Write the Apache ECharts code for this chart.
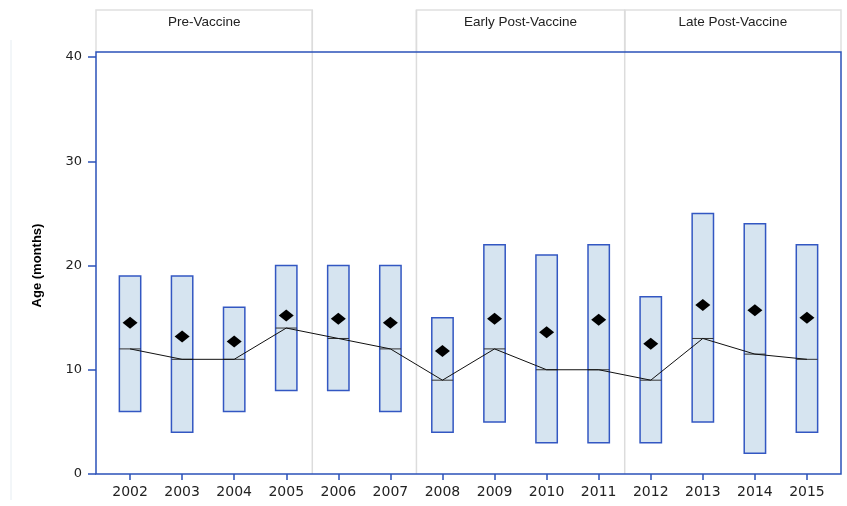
<!DOCTYPE html>
<html>
<head>
<meta charset="utf-8">
<script src="https://cdn.jsdelivr.net/npm/echarts@6/dist/echarts.min.js"></script>
<style>
  html,body{margin:0;padding:0;background:#fff;}
  #chart{width:847px;height:506px;}
</style>
</head>
<body>
<div id="chart"></div>
<script>
// years on the x axis
var years = ['2002','2003','2004','2005','2006','2007','2008','2009','2010','2011','2012','2013','2014','2015'];
// box: 25th percentile, median, 75th percentile (months)
var q1     = [6, 4, 6, 8, 8, 6, 4, 5, 3, 3, 3, 5, 2, 4];
var median = [12, 11, 11, 14, 13, 12, 9, 12, 10, 10, 9, 13, 11.5, 11];
var q3     = [19, 19, 16, 20, 20, 20, 15, 22, 21, 22, 17, 25, 24, 22];
// mean (diamonds)
var mean   = [14.5, 13.2, 12.7, 15.2, 14.9, 14.5, 11.8, 14.9, 13.6, 14.8, 12.5, 16.2, 15.7, 15.0];
// vaccine periods
var periodNames = ['Pre-Vaccine', 'Early Post-Vaccine', 'Late Post-Vaccine'];
var periodStart = ['2002', '2008', '2012'];
var periodEnd   = ['2005', '2011', '2015'];
// vertical separators after these years
var sepAfter = ['2005', '2007', '2011'];
var yTicks = [0, 10, 20, 30, 40];

var blue = '#2b51b9';
var chart = echarts.init(document.getElementById('chart'));

var boxData = years.map(function(y, i){ return [y, q1[i], median[i], q3[i]]; });

var option = {
  animation: false,
  backgroundColor: '#fff',
  grid: [
    { left: 104, right: 14, top: 57, bottom: 32, outerBoundsMode: 'none' },
    { left: 96, right: 6, top: 52, bottom: 32, show: true, borderColor: blue, borderWidth: 1.5,
      backgroundColor: 'transparent', outerBoundsMode: 'none', z: 2 }
  ],
  xAxis: [
    {
      type: 'category', data: years, gridIndex: 0,
      axisLine: { show: false },
      axisTick: { show: true, alignWithLabel: true, length: 6, lineStyle: { color: blue, width: 1.5 } },
      axisLabel: { color: '#222', fontFamily: 'DejaVu Sans', fontSize: 14, margin: 11 },
      splitLine: { show: false }
    },
    { type: 'value', gridIndex: 1, show: false }
  ],
  yAxis: [
    {
      type: 'value', gridIndex: 0, min: 0, max: 40, interval: 10, offset: 8,
      name: 'Age (months)', nameLocation: 'middle', nameGap: 52, nameRotate: 90,
      nameTextStyle: { fontFamily: "'Liberation Sans Narrow', 'Liberation Sans', sans-serif", fontWeight: 'bold', fontSize: 13, color: '#000' },
      axisLine: { show: false },
      axisTick: { show: true, length: 8, customValues: yTicks, lineStyle: { color: blue, width: 1.5 } },
      axisLabel: { color: '#222', fontFamily: 'DejaVu Sans', fontSize: 13, margin: 14, customValues: yTicks },
      splitLine: { show: false }
    },
    { type: 'value', gridIndex: 1, show: false }
  ],
  graphic: [
    { type: 'line', shape: { x1: 11, y1: 40, x2: 11, y2: 500 }, style: { stroke: '#e6edf2', lineWidth: 1 } }
  ],
  series: [
    {
      // period header boxes (open at the bottom, the frame closes them)
      type: 'custom', name: 'periods', z: 1, clip: false,
      data: periodNames.map(function(n, i){ return [years.indexOf(periodStart[i]), years.indexOf(periodEnd[i]), i]; }),
      encode: { x: [0, 1] },
      renderItem: function(params, api){
        var cs = params.coordSys;
        var bw = api.size([1, 0])[0];
        var s = api.value(0), e = api.value(1), i = api.value(2);
        var x1 = api.coord([s, 0])[0] - bw / 2;
        var x2 = api.coord([e, 0])[0] + bw / 2;
        if (s === 0) x1 = cs.x - 8;
        if (e === years.length - 1) x2 = cs.x + cs.width + 8;
        var top = 10, bottom = cs.y - 4.5;
        return {
          type: 'group',
          children: [
            { type: 'polyline', shape: { points: [[x1, bottom], [x1, top], [x2, top], [x2, bottom]] },
              style: { fill: 'none', stroke: '#e0e0e0', lineWidth: 1.5 } },
            { type: 'text', x: (x1 + x2) / 2, y: 22,
              style: { text: periodNames[i], align: 'center', verticalAlign: 'middle',
                       fill: '#222', fontFamily: 'Liberation Sans', fontSize: 13.5 } }
          ]
        };
      }
    },
    {
      // separators between periods
      type: 'custom', name: 'separators', z: 1, clip: false,
      data: sepAfter.map(function(y){ return [years.indexOf(y)]; }),
      encode: { x: 0 },
      renderItem: function(params, api){
        var cs = params.coordSys;
        var bw = api.size([1, 0])[0];
        var x = api.coord([api.value(0), 0])[0] + bw / 2;
        return { type: 'line', shape: { x1: x, y1: 10, x2: x, y2: cs.y + cs.height },
                 style: { stroke: '#dcdcdc', lineWidth: 1.5 } };
      }
    },
    {
      // interquartile boxes with median bar
      type: 'custom', name: 'boxes', z: 3,
      data: boxData,
      encode: { x: 0, y: [1, 2, 3] },
      renderItem: function(params, api){
        var x = api.value(0);
        var lo = api.coord([x, api.value(1)]);
        var md = api.coord([x, api.value(2)]);
        var hi = api.coord([x, api.value(3)]);
        var w = api.size([1, 0])[0] * 0.41;
        return {
          type: 'group',
          children: [
            { type: 'rect', shape: { x: lo[0] - w / 2, y: hi[1], width: w, height: lo[1] - hi[1] },
              style: { fill: '#d6e4f0', stroke: '#3357c2', lineWidth: 1.5 } },
            { type: 'line', shape: { x1: lo[0] - w / 2, y1: md[1], x2: lo[0] + w / 2, y2: md[1] },
              style: { stroke: '#333', lineWidth: 1 } }
          ]
        };
      }
    },
    {
      type: 'line', name: 'median', data: median, z: 4,
      symbol: 'none', lineStyle: { color: '#111', width: 1 }
    },
    {
      type: 'scatter', name: 'mean', data: mean, z: 5,
      symbol: 'diamond', symbolSize: [15, 12], itemStyle: { color: '#000', opacity: 1 }
    }
  ]
};
chart.setOption(option);
</script>
</body>
</html>
